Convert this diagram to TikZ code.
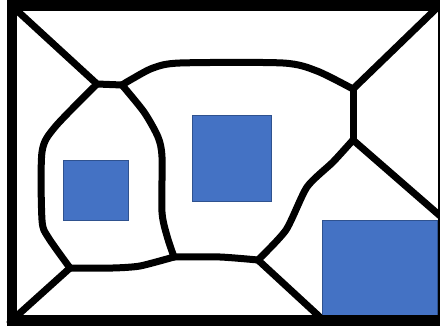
\documentclass[tikz,border=0pt]{standalone}
\usetikzlibrary{calc}
\definecolor{boxfill}{HTML}{4472C4}
\definecolor{boxedge}{HTML}{2F528F}
\tikzset{
  wall/.style={line width=7pt, line join=round, line cap=round, black},
  frame/.style={line width=10.5pt, black},
  room/.style={fill=boxfill, draw=boxedge, line width=0.8pt},
}
\begin{document}
\begin{tikzpicture}[x=1pt, y=-1pt]
  \useasboundingbox (0,0) rectangle (440,326);
  \clip (0,0) rectangle (440,326);
  \fill[white] (0,0) rectangle (440,326);

  % junctions of the partition
  \coordinate (tl) at (12,6);
  \coordinate (tr) at (443,2);
  \coordinate (bl) at (10,322);
  \coordinate (A) at (97,84);
  \coordinate (B) at (122,85);
  \coordinate (C) at (353,89);
  \coordinate (D) at (353,140);
  \coordinate (E) at (258,260);
  \coordinate (F) at (174,257);
  \coordinate (G) at (70,268);
  \coordinate (re) at (446,221);
  \coordinate (bs) at (322,319);

  % partition walls
  \draw[wall] (tl) -- (A) -- (B);
  \draw[wall] plot[smooth, tension=0.45] coordinates
    {(B) (132,79) (153,68) (180,63) (283,63) (317,71) (C)};
  \draw[wall] (C) -- (tr);
  \draw[wall] (C) -- (D);
  \draw[wall] (D) -- (re);
  \draw[wall] plot[smooth, tension=0.4] coordinates
    {(D) (333,162) (307,187) (286,230) (E)};
  \draw[wall] (E) -- (bs);
  \draw[wall] plot[smooth, tension=0.4] coordinates
    {(E) (220,257) (F)};
  \draw[wall] plot[smooth, tension=0.4] coordinates
    {(F) (140,266) (113,268) (G)};
  \draw[wall] (G) -- (bl);
  \draw[wall] plot[smooth, tension=0.45] coordinates
    {(G) (48,237) (42,220) (42,152) (55,127) (A)};
  \draw[wall] plot[smooth, tension=0.45] coordinates
    {(B) (144,112) (158,137) (162,157) (162,212) (167,236) (F)};

  % rooms
  \draw[room] (63,160) rectangle (128,220);
  \draw[room] (192,115) rectangle (271,201);
  \draw[room] (322,220) rectangle (437,317);

  % outer frame
  \draw[frame] (12,5.5) rectangle (443.5,320.5);
\end{tikzpicture}
\end{document}
